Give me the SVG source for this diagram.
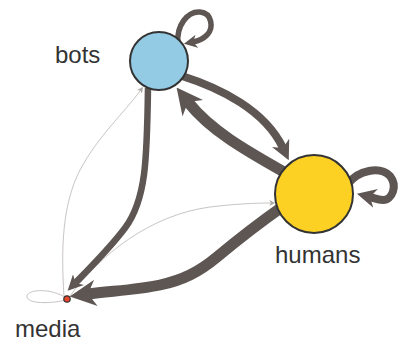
<svg xmlns="http://www.w3.org/2000/svg" width="404" height="346" viewBox="0 0 404 346">
<style>
.e{fill:none;stroke:#5e5653;marker-end:url(#ah)}
.t{fill:none;stroke:#c9c5c3;stroke-width:1;marker-end:url(#aht)}
.lbl{font-family:"Liberation Sans",Arial,sans-serif;font-size:24px;fill:#333}
.node{stroke:#333;stroke-width:2}
</style>
<defs>
<marker id="ah" viewBox="0 0 10 10" refX="3" refY="5" markerWidth="2.4" markerHeight="2.4" orient="auto" markerUnits="strokeWidth"><path d="M0,0 L10,5 L0,10 L3,5 z" fill="#5e5653"/></marker>
<marker id="aht" viewBox="0 0 10 10" refX="3" refY="5" markerWidth="6" markerHeight="6" orient="auto" markerUnits="strokeWidth"><path d="M0,0 L10,5 L0,10 L3,5 z" fill="#a9a5a3"/></marker>
</defs>
<g id="connectors">
<path class="t" d="M64,296 C61,250 62,205 80,170 C98,136 124,113 140.5,90.4"/>
<path class="t" d="M70,296 C100,255 150,215 210,207 C235,204 255,203 271,203"/>
<path d="M66,298 C52,288 28,289 27,296 C26,304 50,304 66,300" fill="none" stroke="#c9c5c3" stroke-width="1"/>
<path class="e" stroke-width="6.5" d="M148,88 C147,160 146,200 125,228 C110,248 90,268 75.3,282.9"/>
<path class="e" stroke-width="11" d="M282,207 C265,219 235,242 217,257 S183,280 160,285 S110,291 88,294"/>
<path class="e" stroke-width="8" d="M182,76 C220,88 265,110 283,148"/>
<path class="e" stroke-width="11" d="M284,172 C245,150 210,130 188,102"/>
<path class="e" stroke-width="5.5" d="M178,44 C176,25 188,11 200,12 C212,13 214,28 207,35 C203,39 198,41 193,42"/>
<path class="e" stroke-width="8" d="M348,184 C358,170 380,166 390,176 C398,186 392,200 383,200 C378,200 374,198 370,197"/>
</g>
<g id="bots">
<circle class="node" cx="159" cy="61" r="29" fill="#93cbe5"/>
<text class="lbl" x="55" y="63">bots</text>
</g>
<g id="humans">
<circle class="node" cx="314" cy="194" r="39" fill="#fcd123"/>
<text class="lbl" x="275" y="263">humans</text>
</g>
<g id="media">
<circle cx="67" cy="299" r="3.2" fill="#e8452c" stroke="#333" stroke-width="1.2"/>
<text class="lbl" x="15" y="337">media</text>
</g>
</svg>
